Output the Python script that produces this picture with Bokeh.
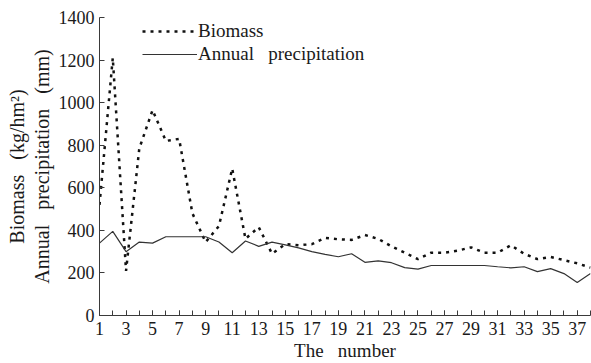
from bokeh.plotting import figure
from bokeh.models import (Range1d, FixedTicker, Legend, LegendItem,
                          LinearAxis)
from bokeh.embed import file_html
from bokeh.resources import INLINE

# ---- data ----
number = list(range(1, 39))
biomass = [520, 1210, 210, 785, 965, 820, 830, 480, 345, 420,
           690, 360, 415, 290, 335, 330, 335, 365, 358, 355,
           378, 360, 325, 295, 265, 295, 295, 305, 320, 295,
           295, 330, 290, 265, 275, 260, 245, 225]
precipitation = [340, 395, 300, 345, 340, 370, 370, 370, 370, 345,
                 295, 350, 325, 345, 332, 318, 300, 287, 276, 290,
                 250, 257, 248, 225, 218, 235, 235, 235, 235, 235,
                 229, 224, 229, 206, 220, 197, 155, 197]
x_ticks = list(range(1, 38, 2))
x_minor = list(range(1, 39))
y_ticks = [0, 200, 400, 600, 800, 1000, 1200, 1400]

NB = "\u00a0\u00a0\u00a0"
FONT = "Liberation Serif"
TXT = "#1a1a1a"
AX = "#3a3a3a"

p = figure(width=591, height=363, output_backend="svg", toolbar_location=None,
           x_range=Range1d(1, 38), y_range=Range1d(0, 1400),
           min_border_left=99, min_border_right=1, min_border_top=17,
           min_border_bottom=47)
p.outline_line_color = None
p.xgrid.visible = False
p.ygrid.visible = False
p.background_fill_color = "white"
p.border_fill_color = "white"

r_bio = p.line(number, biomass, line_color="#111111", line_width=2.5,
               line_dash="3 5")
r_pre = p.line(number, precipitation, line_color="#333333", line_width=1.2)

xa = p.xaxis[0]
xa.ticker = FixedTicker(ticks=x_ticks, minor_ticks=x_minor)
xa.axis_label = "The" + NB + "number"
xa.axis_label_text_font = FONT
xa.axis_label_text_font_size = "19px"
xa.axis_label_text_font_style = "normal"
xa.axis_label_text_color = TXT
xa.axis_label_standoff = 2
xa.major_label_text_font = FONT
xa.major_label_text_font_size = "18px"
xa.major_label_text_color = TXT
xa.major_label_standoff = 6
xa.major_tick_in = 5
xa.major_tick_out = 0
xa.minor_tick_in = 5
xa.minor_tick_out = 0
xa.axis_line_color = AX
xa.major_tick_line_color = AX
xa.minor_tick_line_color = AX

ya = p.yaxis[0]
ya.ticker = FixedTicker(ticks=y_ticks)
ya.major_label_text_font = FONT
ya.major_label_text_font_size = "18px"
ya.major_label_text_color = TXT
ya.major_label_standoff = 5
ya.major_tick_in = 5
ya.major_tick_out = 0
ya.minor_tick_line_color = None
ya.axis_line_color = AX
ya.major_tick_line_color = AX
ya.axis_label = "Annual" + NB + "precipitation" + NB + "(mm)"
ya.axis_label_text_font = FONT
ya.axis_label_text_font_size = "20px"
ya.axis_label_text_font_style = "normal"
ya.axis_label_text_color = TXT
ya.axis_label_standoff = 3

# outer line of the two-line y label
ya2 = LinearAxis(ticker=FixedTicker(ticks=[]), axis_line_color=None,
                 major_tick_line_color=None, minor_tick_line_color=None,
                 major_label_text_font_size="0px", major_label_standoff=0,
                 axis_label="Biomass" + NB + "(kg/hm²)",
                 axis_label_text_font=FONT, axis_label_text_font_size="20px",
                 axis_label_text_font_style="normal",
                 axis_label_text_color=TXT, axis_label_standoff=0)
p.add_layout(ya2, "left")

legend = Legend(items=[LegendItem(label="Biomass", renderers=[r_bio]),
                       LegendItem(label="Annual" + NB + "precipitation",
                                  renderers=[r_pre])],
                location=(43, 250), glyph_width=55, glyph_height=20,
                label_height=20, spacing=1, padding=0, margin=0,
                label_standoff=1, border_line_color=None,
                background_fill_alpha=0, label_text_font=FONT,
                label_text_font_size="19px", label_text_color=TXT)
p.add_layout(legend, "center")

open("out.html", "w").write(file_html(p, INLINE))
